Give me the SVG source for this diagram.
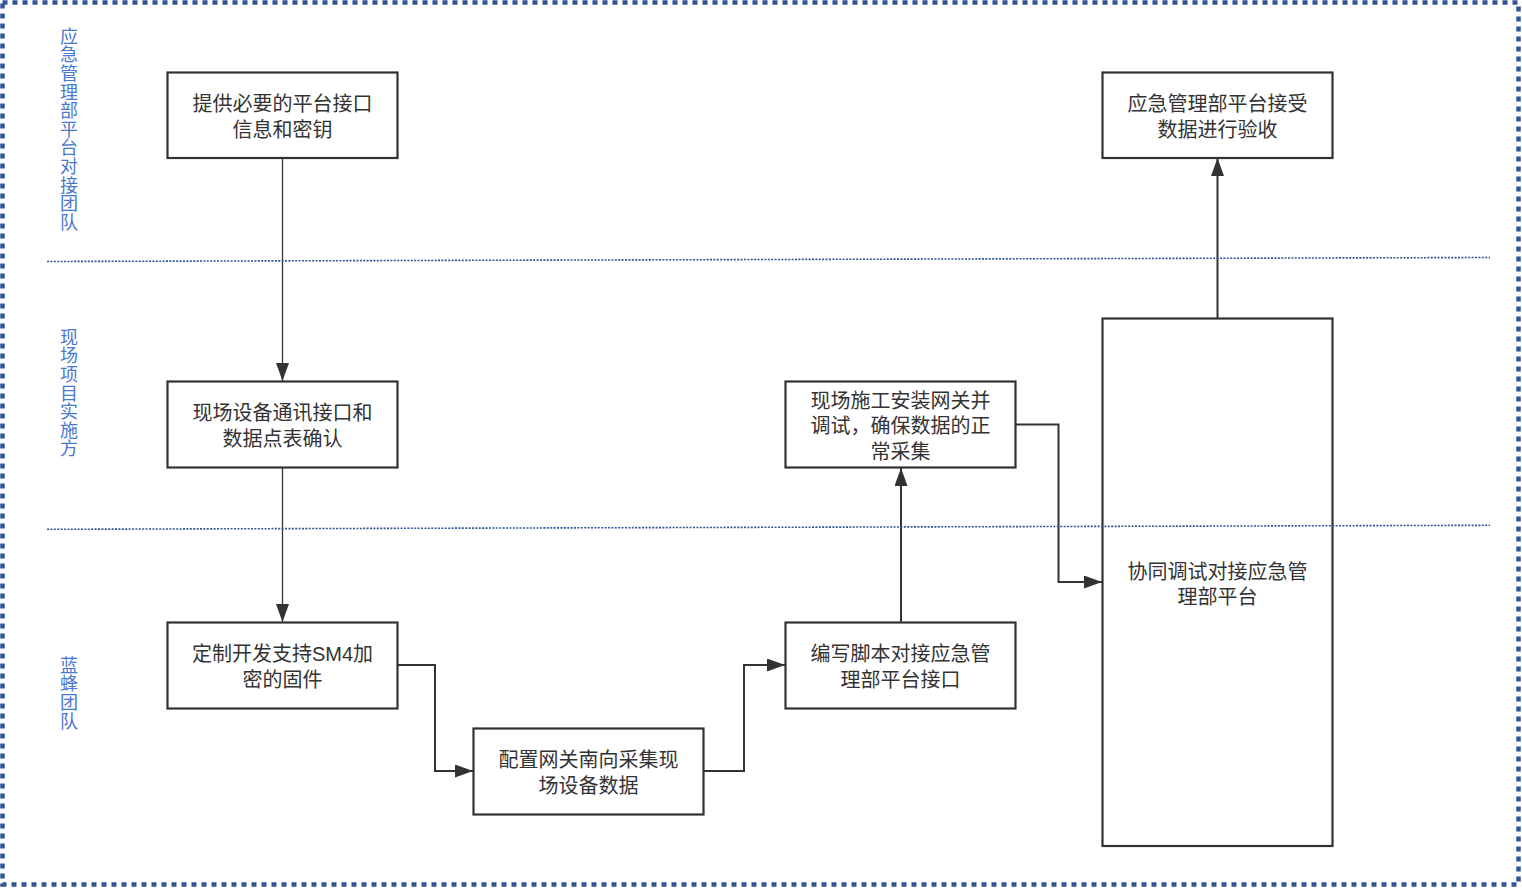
<svg xmlns="http://www.w3.org/2000/svg" width="1522" height="888" viewBox="0 0 1522 888">
<style>
.node rect{fill:#ffffff;stroke:#2e3338;stroke-width:2.2}
.node text{font-family:"Liberation Sans","Noto Sans CJK SC",sans-serif;font-size:20px;fill:#333333;text-anchor:middle;dominant-baseline:central}
.lane{font-family:"Noto Sans CJK SC",sans-serif;font-size:18px;letter-spacing:0.6px;fill:#4a78cf;writing-mode:vertical-rl;text-anchor:start}
.divider{stroke:#2f5597;stroke-width:1.6;stroke-dasharray:2 1.4;fill:none}
.conn{fill:none;stroke:#333333;stroke-width:2}
.conn.thin{stroke-width:1.3}
</style>
<defs>
<marker id="arr" viewBox="0 0 18 13" refX="18" refY="6.5" markerWidth="18" markerHeight="13" markerUnits="userSpaceOnUse" orient="auto">
<path d="M0,0 L18,6.5 L0,13 Z" fill="#333333"/>
</marker>
</defs>
<rect x="0" y="0" width="1522" height="888" fill="#ffffff"/>
<rect x="2.5" y="2.5" width="1516" height="882" fill="none" stroke="#2f5597" stroke-width="4.5" stroke-dasharray="5 5"/>
<g id="lane-labels">
<text class="lane" x="69" y="27">应急管理部平台对接团队</text>
<text class="lane" x="69" y="328">现场项目实施方</text>
<text class="lane" x="69" y="656">蓝蜂团队</text>
</g>
<g id="connectors">
<path class="conn thin" d="M282.5,158 L282.5,381" marker-end="url(#arr)"/>
<path class="conn thin" d="M282.5,468 L282.5,622" marker-end="url(#arr)"/>
<path class="conn" d="M398,665 L435,665 L435,771 L473,771" marker-end="url(#arr)"/>
<path class="conn" d="M703,771 L744,771 L744,665 L785,665" marker-end="url(#arr)"/>
<path class="conn" d="M901,622 L901,468" marker-end="url(#arr)"/>
<path class="conn" d="M1015,424.5 L1058.5,424.5 L1058.5,582 L1102,582" marker-end="url(#arr)"/>
<path class="conn" d="M1217.5,318 L1217.5,158" marker-end="url(#arr)"/>
</g>
<g id="n1" class="node"><rect x="167.5" y="72.5" width="230" height="85.5"/><text><tspan x="282.5" y="104">提供必要的平台接口</tspan><tspan x="282.5" y="129.5">信息和密钥</tspan></text></g>
<g id="n2" class="node"><rect x="167.5" y="381.5" width="230" height="86"/><text><tspan x="282.5" y="413">现场设备通讯接口和</tspan><tspan x="282.5" y="438.5">数据点表确认</tspan></text></g>
<g id="n3" class="node"><rect x="167.5" y="622.5" width="230" height="86"/><text><tspan x="282.5" y="654">定制开发支持SM4加</tspan><tspan x="282.5" y="679.5">密的固件</tspan></text></g>
<g id="n4" class="node"><rect x="473.5" y="728.5" width="230" height="86"/><text><tspan x="588.5" y="760">配置网关南向采集现</tspan><tspan x="588.5" y="785.5">场设备数据</tspan></text></g>
<g id="n5" class="node"><rect x="785.5" y="622.5" width="230" height="86"/><text><tspan x="900.5" y="654">编写脚本对接应急管</tspan><tspan x="900.5" y="679.5">理部平台接口</tspan></text></g>
<g id="n6" class="node"><rect x="785.5" y="381.5" width="230" height="86"/><text><tspan x="900.5" y="400.5">现场施工安装网关并</tspan><tspan x="900.5" y="426">调试，确保数据的正</tspan><tspan x="900.5" y="451.5">常采集</tspan></text></g>
<g id="n7" class="node"><rect x="1102.5" y="318.5" width="230" height="527.5"/><text><tspan x="1217.5" y="571.5">协同调试对接应急管</tspan><tspan x="1217.5" y="597">理部平台</tspan></text></g>
<g id="n8" class="node"><rect x="1102.5" y="72.5" width="230" height="85.5"/><text><tspan x="1217.5" y="104">应急管理部平台接受</tspan><tspan x="1217.5" y="129.5">数据进行验收</tspan></text></g>
<g id="dividers">
<line class="divider" x1="47" y1="261.5" x2="1490" y2="257.5"/>
<line class="divider" x1="47" y1="529.3" x2="1490" y2="525.3"/>
</g>
</svg>
